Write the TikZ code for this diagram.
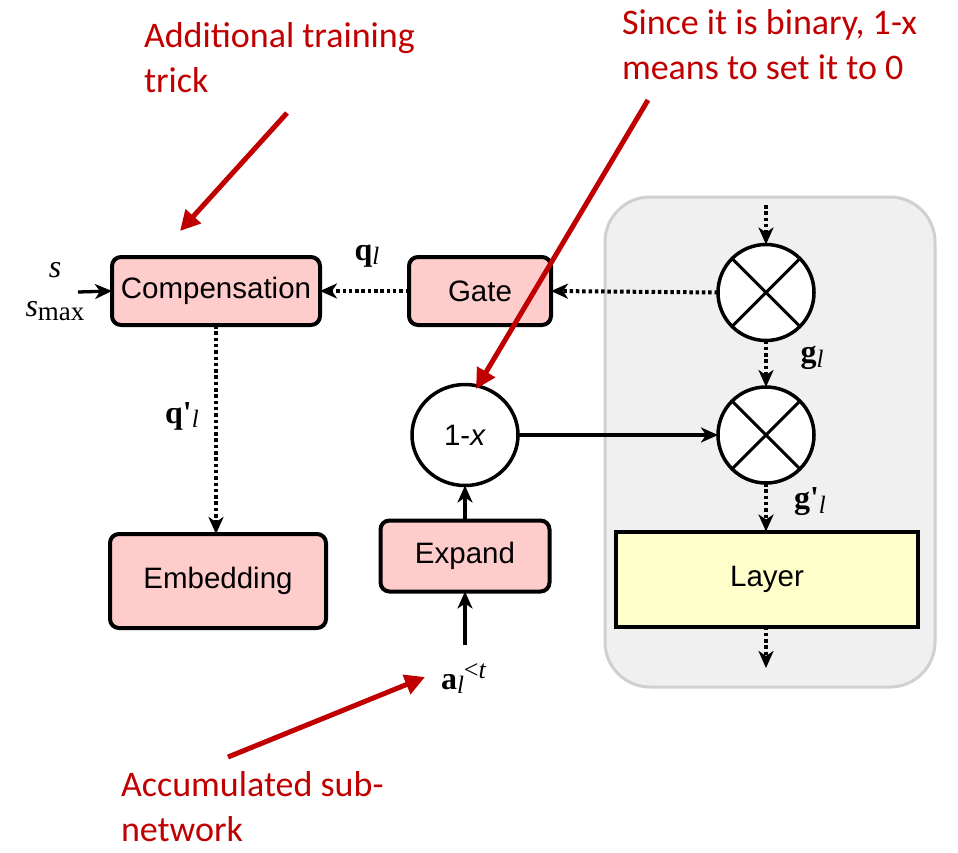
\documentclass[tikz,border=0pt]{standalone}
\usepackage{fontspec}
\setmainfont{Liberation Sans}
\newfontfamily\annotfont{Carlito}
\newfontfamily\serifrm{Liberation Serif}
\usetikzlibrary{arrows.meta,shapes.geometric}
\definecolor{boxpink}{HTML}{FFCCCC}
\definecolor{layeryel}{HTML}{FFFFCC}
\definecolor{panelgray}{HTML}{F0F0F0}
\definecolor{panelline}{HTML}{D0D0D0}
\definecolor{notered}{HTML}{C00000}

% bold serif symbol with an italic subscript
\newcommand{\bsym}[2]{{\serifrm\bfseries #1}\raisebox{-4.5pt}{\serifrm\itshape\fontsize{25}{25}\selectfont #2}}

\begin{document}
\begin{tikzpicture}[x=1pt,y=-1pt,
  every node/.style={inner sep=0pt, outer sep=0pt},
  block/.style={draw=black, line width=4pt, fill=boxpink, rounded corners=9pt,
    font=\fontsize{29.5}{29.5}\selectfont},
  layerbox/.style={draw=black, line width=4pt, fill=layeryel,
    font=\fontsize{29.5}{29.5}\selectfont},
  mul/.style={circle, draw=black, line width=3.5pt, fill=white, minimum size=96pt,
    path picture={\draw[line width=3pt]
      (path picture bounding box.south west) -- (path picture bounding box.north east)
      (path picture bounding box.north west) -- (path picture bounding box.south east);}},
  dotarrow/.style={line width=4pt, dash pattern=on 3.5pt off 2.8pt,
    -{Stealth[length=17pt,width=15pt,inset=5pt]}},
  solidarrow/.style={line width=3.3pt, -{Stealth[length=17pt,width=15pt,inset=5pt]}},
  notearrow/.style={draw=notered, line width=5pt, -{Triangle[length=20pt,width=20pt]}},
  note/.style={text=notered, align=left, anchor=base west,
    font=\annotfont\fontsize{36}{45}\selectfont},
  lbl/.style={font=\fontsize{32}{32}\selectfont}
]
\useasboundingbox (0,0) rectangle (958,852);

% grey panel holding the layer path
\node[draw=panelline, line width=3pt, fill=panelgray, rounded corners=45pt,
  minimum width=330pt, minimum height=490pt] (panel) at (770,442) {};

% blocks
\node[block, minimum width=208pt, minimum height=68pt] (comp) at (216,291) {Compensation};
\node[block, minimum width=142pt, minimum height=68pt] (gate) at (480,291) {Gate};
\node[block, minimum width=216pt, minimum height=94pt] (emb) at (218,581) {Embedding};
\node[block, minimum width=169pt, minimum height=71pt] (expand) at (465,556) {Expand};
\node[ellipse, draw=black, line width=3.5pt, fill=white, minimum width=106pt,
  minimum height=101pt, font=\fontsize{29.5}{29.5}\selectfont] (onex) at (465,435) {1-\textit{x}};
\node[mul] (mul1) at (766,292.5) {};
\node[mul] (mul2) at (766,435) {};
\node[layerbox, minimum width=302pt, minimum height=95pt] (layer) at (767,579) {Layer};

% free ends
\coordinate (panelin) at (766,205);
\coordinate (panelout) at (766,668);
\coordinate (sin) at (78,292);
\coordinate (astart) at (465,645);

% math labels
\node[lbl] (slbl) at (55,270) {\serifrm\itshape s};
\node[lbl] (smaxlbl) at (55,311) {{\serifrm\itshape s}\raisebox{-4.5pt}{\serifrm\fontsize{27}{27}\selectfont max}};
\node[lbl] (qlbl) at (367,256) {\bsym{q}{l}};
\node[lbl] (qplbl) at (182,416) {\bsym{q'}{l}};
\node[lbl] (glbl) at (812,358) {\bsym{g}{l}};
\node[lbl] (gplbl) at (810,502) {\bsym{g'}{l}};
\node[lbl, anchor=base west] (albl) at (441,689) {\bsym{a}{l}\raisebox{11pt}{\serifrm\fontsize{26}{26}\selectfont <\textit{t}}};

% connectors
\draw[dotarrow] (panelin) -- (mul1.north);
\draw[dotarrow] (mul1.south) -- (mul2.north);
\draw[dotarrow] (mul2.south) -- (layer.north -| mul2.south);
\draw[dotarrow] (layer.south -| panelout) -- (panelout);
\draw[dotarrow] (mul1.west) -- (gate.east);
\draw[dotarrow] (gate.west) -- (comp.east);
\draw[dotarrow] (comp.south) -- (emb.north -| comp.south);
\draw[solidarrow] (sin) -- (comp.west);
\draw[solidarrow] (onex.east) -- (mul2.west);
\draw[solidarrow] (expand.north) -- (onex.south);
\draw[solidarrow] (astart) -- (expand.south -| astart);

% annotations (anchored at the baseline of the last line)
\node[note] (note1) at (144,92) {Additional training\\trick};
\node[note] (note2) at (622,79) {Since it is binary, 1-x\\means to set it to 0};
\node[note] (note3) at (121,841) {Accumulated sub-\\network};

\coordinate (n1a) at (287,113);
\coordinate (n1b) at (180,231);
\coordinate (n2a) at (648,100);
\coordinate (n2b) at (476,389);
\coordinate (n3a) at (228,757);
\coordinate (n3b) at (425,677);
\draw[notearrow] (n1a) -- (n1b);
\draw[notearrow] (n2a) -- (n2b);
\draw[notearrow] (n3a) -- (n3b);
\end{tikzpicture}
\end{document}
